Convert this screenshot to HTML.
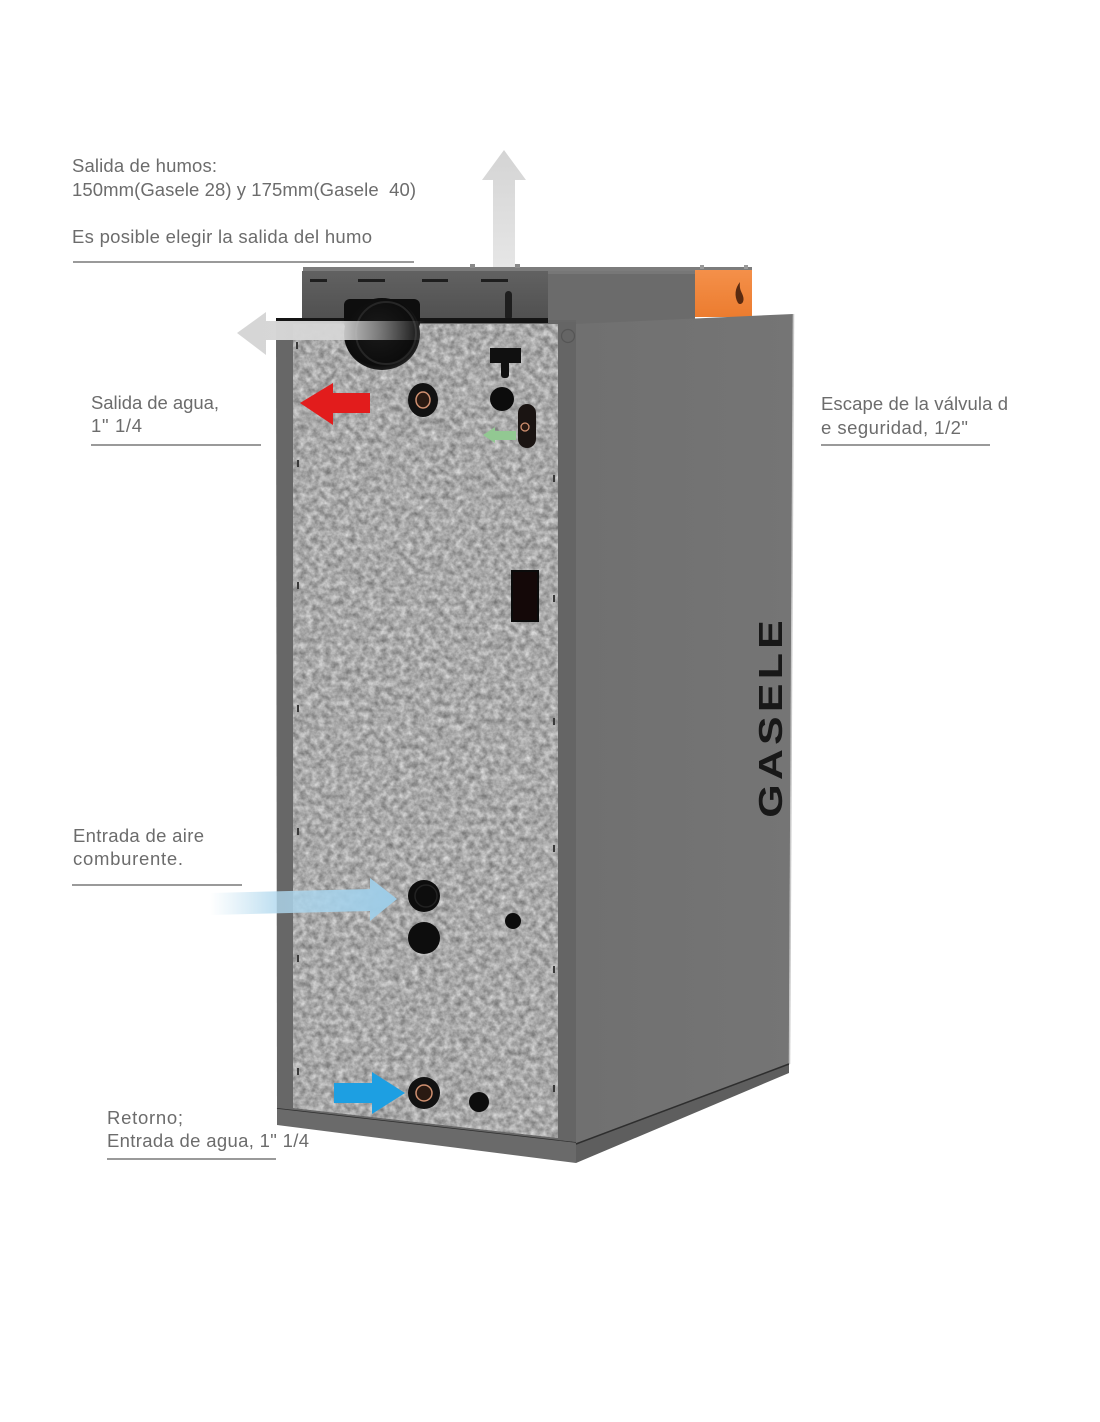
<!DOCTYPE html>
<html><head><meta charset="utf-8"><style>
html,body{margin:0;padding:0;background:#fff;}
svg{display:block;}
text{font-family:"Liberation Sans",sans-serif;}
</style></head><body>
<svg width="1100" height="1422" viewBox="0 0 1100 1422" xmlns="http://www.w3.org/2000/svg">
<defs>
<filter id="galv" x="0" y="0" width="100%" height="100%" color-interpolation-filters="sRGB">
<feTurbulence type="fractalNoise" baseFrequency="0.16" numOctaves="3" seed="7" result="n"/>
<feColorMatrix in="n" type="matrix" values="0.5 0 0 0 0.41  0.5 0 0 0 0.41  0.5 0 0 0 0.41  0 0 0 0 1" result="g"/>
<feComposite in="g" in2="SourceAlpha" operator="in"/>
</filter>
<linearGradient id="lgrey" x1="237" y1="0" x2="425" y2="0" gradientUnits="userSpaceOnUse">
<stop offset="0" stop-color="#d6d6d6" stop-opacity="1"/>
<stop offset="0.55" stop-color="#d6d6d6" stop-opacity="0.95"/>
<stop offset="1" stop-color="#d6d6d6" stop-opacity="0"/>
</linearGradient>
<linearGradient id="ugrey" x1="0" y1="150" x2="0" y2="268" gradientUnits="userSpaceOnUse">
<stop offset="0" stop-color="#d4d4d4"/>
<stop offset="1" stop-color="#e6e6e6"/>
</linearGradient>
<linearGradient id="lblue" x1="210" y1="0" x2="397" y2="0" gradientUnits="userSpaceOnUse">
<stop offset="0" stop-color="#b8dcef" stop-opacity="0"/>
<stop offset="0.35" stop-color="#b0d8ee" stop-opacity="0.8"/>
<stop offset="1" stop-color="#9ccbe6" stop-opacity="1"/>
</linearGradient>
<linearGradient id="orange" x1="0" y1="270" x2="0" y2="317" gradientUnits="userSpaceOnUse">
<stop offset="0" stop-color="#f4904a"/>
<stop offset="1" stop-color="#ec7c2f"/>
</linearGradient>
<linearGradient id="topdark" x1="0" y1="272" x2="0" y2="320" gradientUnits="userSpaceOnUse">
<stop offset="0" stop-color="#616161"/>
<stop offset="1" stop-color="#505050"/>
</linearGradient>
<linearGradient id="side" x1="576" y1="0" x2="792" y2="0" gradientUnits="userSpaceOnUse">
<stop offset="0" stop-color="#707070"/>
<stop offset="1" stop-color="#757575"/>
</linearGradient>
<radialGradient id="pipe" cx="0.45" cy="0.45" r="0.6">
<stop offset="0" stop-color="#1a1a1a"/>
<stop offset="0.8" stop-color="#0c0c0c"/>
<stop offset="1" stop-color="#2a2a2a"/>
</radialGradient>
</defs>

<!-- Labels -->
<g fill="#6c6c6c" font-size="18.5">
<text x="72" y="172" textLength="145" lengthAdjust="spacing">Salida de humos:</text>
<text x="72" y="196" textLength="344" lengthAdjust="spacing">150mm(Gasele 28) y 175mm(Gasele&#160; 40)</text>
<text x="72" y="243" textLength="300" lengthAdjust="spacing">Es posible elegir la salida del humo</text>
<text x="91" y="409" textLength="128" lengthAdjust="spacing">Salida de agua,</text>
<text x="91" y="432" textLength="51" lengthAdjust="spacing">1" 1/4</text>
<text x="821" y="410" textLength="187" lengthAdjust="spacing">Escape de la válvula d</text>
<text x="821" y="434" textLength="147" lengthAdjust="spacing">e seguridad, 1/2"</text>
<text x="73" y="842" textLength="131" lengthAdjust="spacing">Entrada de aire</text>
<text x="73" y="865" textLength="110" lengthAdjust="spacing">comburente.</text>
<text x="107" y="1124" textLength="76" lengthAdjust="spacing">Retorno;</text>
<text x="107" y="1147" textLength="202" lengthAdjust="spacing">Entrada de agua, 1" 1/4</text>
</g>
<g stroke="#9a9a9a" stroke-width="2">
<line x1="73" y1="262" x2="414" y2="262"/>
<line x1="91" y1="445" x2="261" y2="445"/>
<line x1="821" y1="445" x2="990" y2="445"/>
<line x1="72" y1="885" x2="242" y2="885"/>
<line x1="107" y1="1159" x2="276" y2="1159"/>
</g>

<!-- Up arrow -->
<polygon points="504,150 526,180 515,180 515,268 493,268 493,180 482,180" fill="url(#ugrey)"/>

<!-- Top box -->
<rect x="303" y="267" width="449" height="5" fill="#7c7c7c"/>
<rect x="470" y="264" width="5" height="4" fill="#8a8a8a"/>
<rect x="515" y="264" width="5" height="4" fill="#8a8a8a"/>
<rect x="700" y="265" width="4" height="4" fill="#9a9a9a"/>
<rect x="744" y="265" width="4" height="4" fill="#9a9a9a"/>
<rect x="302" y="271" width="246" height="51" fill="url(#topdark)"/>
<rect x="548" y="271" width="147" height="53" fill="#6b6b6b"/>
<rect x="548" y="271" width="147" height="3" fill="#777"/>
<rect x="695" y="270" width="57" height="47" fill="url(#orange)"/>
<path d="M740,282 C735,288 734,296 738,303 C741,306 745,302 743,296 C742,292 739,290 740,282 Z" fill="#5a2a10"/>
<g fill="#1e1e1e">
<rect x="310" y="279" width="17" height="3"/>
<rect x="358" y="279" width="27" height="3"/>
<rect x="422" y="279" width="26" height="3"/>
<rect x="481" y="279" width="27" height="3"/>
<rect x="505" y="291" width="7" height="29" rx="3.5"/>
</g>

<!-- Side panel -->
<polygon points="576,324 793,314 789,1064 576,1144" fill="url(#side)"/>
<line x1="793.5" y1="314" x2="789.5" y2="1064" stroke="#c8c8c8" stroke-width="1.5"/>
<!-- Base -->
<polygon points="277,1108 576,1142 576,1163 277,1125" fill="#6a6a6a"/>
<polygon points="576,1144 789,1064 789,1073 576,1163" fill="#5e5e5e"/>
<line x1="576" y1="1144" x2="789" y2="1064" stroke="#2e2e2e" stroke-width="1.5"/>
<line x1="277" y1="1108" x2="576" y2="1142" stroke="#2e2e2e" stroke-width="1.5"/>

<!-- Front frame -->
<polygon points="276,320 576,320 576,1142 277,1108" fill="#676767"/>
<polygon points="558,322 576,322 576,1142 558,1140" fill="#656565"/>
<!-- Galvanized panel -->
<polygon points="293,324 558,324 558,1138 293,1108" fill="#a9a9a9"/>
<polygon points="293,324 558,324 558,1138 293,1108" fill="#000" filter="url(#galv)"/>
<rect x="276" y="318" width="272" height="5" fill="#151515"/>
<circle cx="568" cy="336" r="6.5" fill="none" stroke="#555" stroke-width="1.2"/>

<!-- small edge marks -->
<g fill="#3a3a3a">
<rect x="297" y="460" width="2" height="7"/>
<rect x="297" y="582" width="2" height="7"/>
<rect x="297" y="705" width="2" height="7"/>
<rect x="297" y="828" width="2" height="7"/>
<rect x="297" y="955" width="2" height="7"/>
<rect x="297" y="1068" width="2" height="7"/>
<rect x="553" y="475" width="2" height="7"/>
<rect x="553" y="595" width="2" height="7"/>
<rect x="553" y="718" width="2" height="7"/>
<rect x="553" y="845" width="2" height="7"/>
<rect x="553" y="966" width="2" height="7"/>
<rect x="553" y="1085" width="2" height="7"/>
<rect x="296" y="342" width="2" height="7"/>
</g>

<!-- Flue pipe -->
<rect x="344" y="299" width="76" height="30" rx="6" fill="#0e0e0e"/>
<ellipse cx="382" cy="334" rx="38" ry="36" fill="url(#pipe)"/>
<ellipse cx="386" cy="333" rx="30" ry="31" fill="none" stroke="#262626" stroke-width="2"/>
<!-- Left grey arrow -->
<polygon points="237,333 266,312 266,321 425,321 425,340 266,340 266,355" fill="url(#lgrey)"/>

<!-- Red arrow -->
<polygon points="300,403 333,383 333,393 370,393 370,413 333,413 333,425" fill="#e21c1c"/>

<!-- Upper fittings -->
<ellipse cx="423" cy="400" rx="15" ry="17" fill="#121212"/>
<ellipse cx="423" cy="400" rx="7" ry="8" fill="#2a1a12" stroke="#d09070" stroke-width="1.5"/>
<rect x="490" y="348" width="31" height="15" fill="#101010"/>
<rect x="501" y="360" width="8" height="18" rx="3" fill="#101010"/>
<circle cx="502" cy="399" r="12" fill="#0c0c0c"/>
<rect x="518" y="404" width="18" height="44" rx="9" fill="#1a1412"/>
<circle cx="525" cy="427" r="4" fill="#2a1a12" stroke="#d09070" stroke-width="1.3"/>
<polygon points="483,435 495,427 495,431 516,431 516,440 495,440 495,443" fill="#92c892"/>

<!-- Slot -->
<rect x="511" y="570" width="28" height="52" fill="#0b0b0b"/>
<rect x="513" y="572" width="24" height="48" fill="#140808"/>

<!-- Air inlet holes -->
<circle cx="424" cy="896" r="16" fill="#0d0d0d"/>
<circle cx="426" cy="896" r="11" fill="none" stroke="#222" stroke-width="1.5"/>
<circle cx="424" cy="938" r="16" fill="#0d0d0d"/>
<circle cx="513" cy="921" r="8" fill="#0d0d0d"/>
<!-- Light blue arrow -->
<polygon points="397,899 370,878 370,889 210,893 210,915 370,911 370,921" fill="url(#lblue)"/>

<!-- Bottom fittings -->
<circle cx="424" cy="1093" r="16" fill="#121212"/>
<circle cx="424" cy="1093" r="8" fill="#2a1a12" stroke="#d09070" stroke-width="1.5"/>
<circle cx="479" cy="1102" r="10" fill="#0d0d0d"/>
<polygon points="334,1083 372,1083 372,1072 405,1093 372,1114 372,1103 334,1103" fill="#1d9fe2"/>

<!-- GASELE logo -->
<text transform="translate(782,719) rotate(-90) scale(1.3,1)" text-anchor="middle" font-size="33" font-weight="bold" fill="#181818" textLength="152" lengthAdjust="spacing">GASELE</text>
</svg>
</body></html>
